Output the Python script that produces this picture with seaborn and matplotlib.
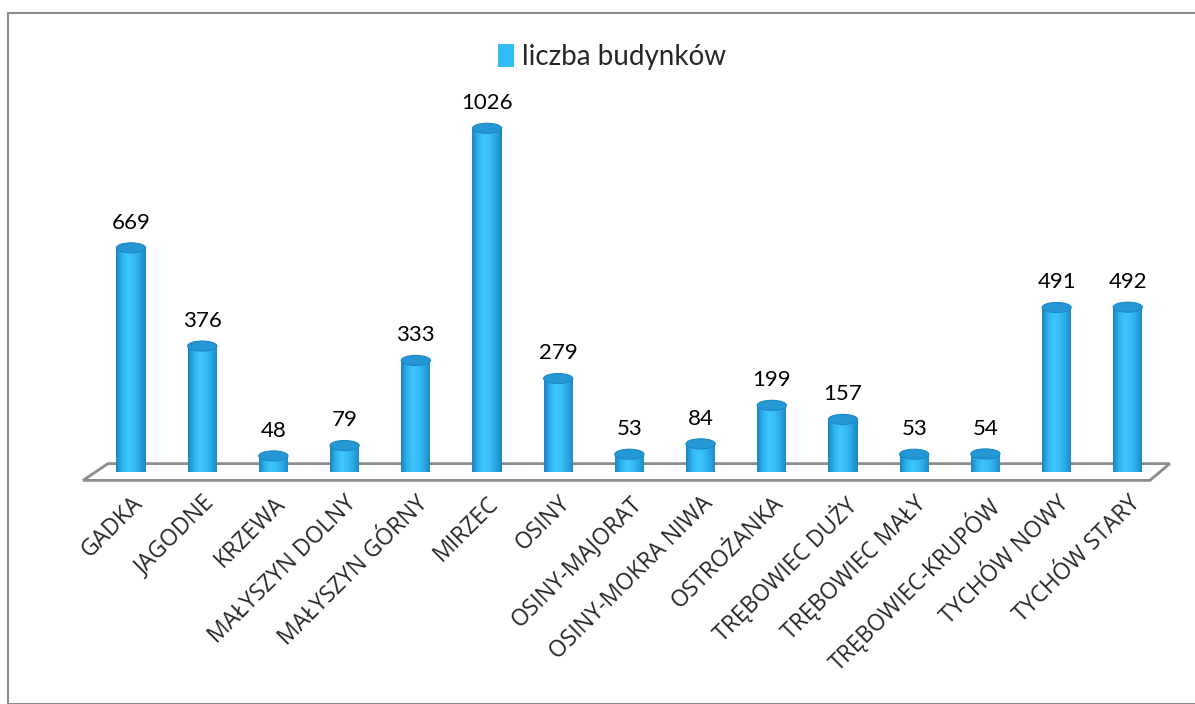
import matplotlib
matplotlib.use('Agg')
import matplotlib.pyplot as plt
from matplotlib.patches import Ellipse, Polygon, Rectangle, Patch
from matplotlib.colors import LinearSegmentedColormap
import seaborn as sns
import numpy as np

villages = ['GADKA', 'JAGODNE', 'KRZEWA', 'MAŁYSZYN DOLNY', 'MAŁYSZYN GÓRNY',
            'MIRZEC', 'OSINY', 'OSINY-MAJORAT', 'OSINY-MOKRA NIWA', 'OSTROŻANKA',
            'TRĘBOWIEC DUŻY', 'TRĘBOWIEC MAŁY', 'TRĘBOWIEC-KRUPÓW', 'TYCHÓW NOWY',
            'TYCHÓW STARY']
buildings = [669, 376, 48, 79, 333, 1026, 279, 53, 84, 199, 157, 53, 54, 491, 492]
series_name = 'liczba budynków'

W, H = 1195, 704
bar_w = 0.41
cap_h = 30  # ellipse height in data units

sns.set_style('white')
plt.rcParams['font.family'] = ['Open Sans', 'DejaVu Sans']

fig = plt.figure(figsize=(W / 100, H / 100), dpi=100)
ax = fig.add_axes([95.4 / W, 232 / H, 1068 / W, 368.5 / H])

sns.barplot(x=villages, y=buildings, color='#33BBF5', width=bar_w, ax=ax, zorder=3)

# cylinder shading
shade = LinearSegmentedColormap.from_list(
    'cyl', ['#1A85C2', '#2FB3EE', '#3DC6FF', '#36BDF8', '#2AA6E2', '#1A86C3'])
grad = np.linspace(0, 1, 64).reshape(1, -1)
for p in ax.patches:
    x0, w, h = p.get_x(), p.get_width(), p.get_height()
    p.set_edgecolor('none')
    im = ax.imshow(grad, cmap=shade, extent=[x0, x0 + w, 0, h], aspect='auto', zorder=3.1)
    clip = Polygon([[x0, 0], [x0 + w, 0], [x0 + w, h], [x0, h]], transform=ax.transData)
    im.set_clip_path(clip)
    # rounded bottom
    bot = Ellipse((x0 + w / 2, 0), w, cap_h, facecolor='none', edgecolor='none', zorder=3.05)
    ax.add_patch(bot)
    im2 = ax.imshow(grad, cmap=shade, extent=[x0, x0 + w, -cap_h / 2, cap_h / 2],
                    aspect='auto', zorder=3.05)
    im2.set_clip_path(bot)
    top = Ellipse((x0 + w / 2, h), w, cap_h, facecolor='#2497D4', edgecolor='#1B87C5',
                  lw=0.8, zorder=3.2)
    ax.add_patch(top)

ax.set_xlim(-0.5, 14.5)
ax.set_ylim(0, 1100)

# floor
floor = Polygon([[-0.674, -25], [-0.323, 25], [14.59, 25], [14.31, -25]], closed=True,
                facecolor='white', edgecolor='#8C8C8C', lw=2, zorder=1, clip_on=False)
ax.add_patch(floor)

ax.bar_label(ax.containers[0], padding=11, fontsize=16, color='black',
             fontfamily=['Lato', 'DejaVu Sans'])
for t in ax.texts:
    t.set_zorder(5)

ax.set_yticks([])
ax.set_xticks(range(len(villages)))
ax.set_xticklabels(villages, rotation=45, ha='right', rotation_mode='anchor', fontsize=16.5)
ax.tick_params(axis='x', length=0, pad=14)
for s in ax.spines.values():
    s.set_visible(False)
ax.patch.set_alpha(0)

fig.legend(handles=[Patch(facecolor='#33BBF5', edgecolor='none')], labels=[series_name],
           loc='center', bbox_to_anchor=(612 / W, 1 - 57 / H), frameon=False,
           prop={'family': ['Lato', 'DejaVu Sans'], 'size': 20},
           handlelength=0.6, handleheight=0.9, handletextpad=0.3)

# chart frame
fig.add_artist(Rectangle((8 / W, 0), 1.0, 1 - 13 / H, transform=fig.transFigure,
                         facecolor='none', edgecolor='#8C8C8C', lw=1.5, clip_on=False))

fig.savefig('out.png', dpi=100)
